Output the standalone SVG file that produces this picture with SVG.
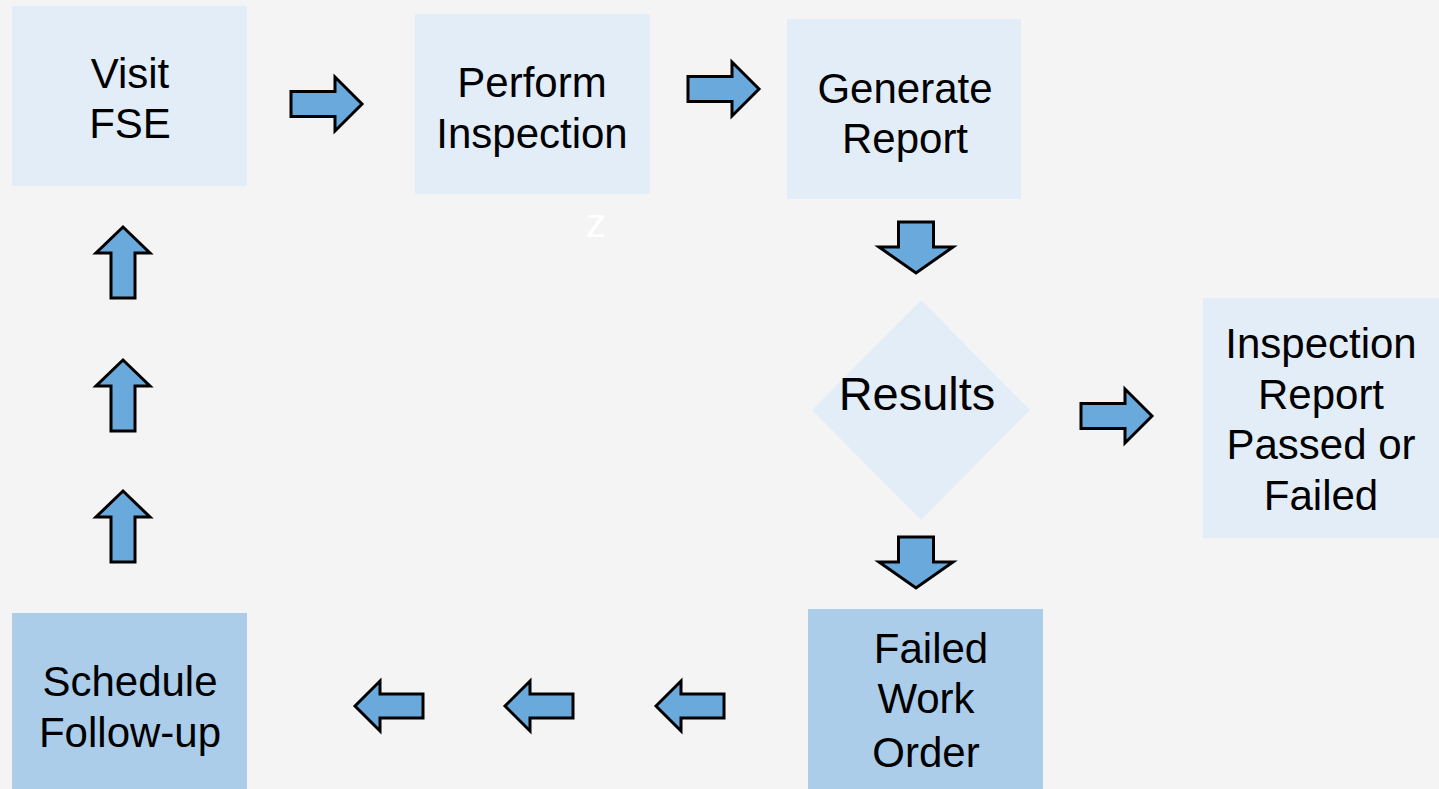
<svg xmlns="http://www.w3.org/2000/svg" xmlns:xlink="http://www.w3.org/1999/xlink" width="1439" height="789" viewBox="0 0 1439 789">
<style>
.box{fill:#e3edf8}
.dark{fill:#abcdea}
.lbl{font-family:"Liberation Sans",Arial,sans-serif;font-size:42px;fill:#000;text-anchor:middle}
.arr{fill:#6aa9dc;stroke:#000;stroke-width:3;stroke-linejoin:miter}
</style>
<defs>
<path id="ar" class="arr" d="M0,-12.5 H44 V-27 L71,0 L44,27 V12.5 H0 Z"/>
<path id="ad" class="arr" d="M-17.5,0 V25 H-37 L0,51 L37,25 H17.5 V0 Z"/>
<path id="au" class="arr" d="M0,0 L27,26 H12 V71 H-12 V26 H-27 Z"/>
<path id="al" class="arr" d="M0,0 L25,-25 V-12 H68 V12 H25 V25 Z"/>
</defs>
<rect width="1439" height="789" fill="#f4f4f4"/>
<text x="596" y="237" font-family="Liberation Sans,Arial,sans-serif" font-size="40" fill="#ffffff" text-anchor="middle">z</text>
<g id="visit">
<rect class="box" x="12" y="6" width="235" height="180"/>
<text class="lbl" x="130" y="88">Visit</text>
<text class="lbl" x="130" y="138">FSE</text>
</g>
<g id="perform">
<rect class="box" x="415" y="14" width="235" height="180"/>
<text class="lbl" x="532" y="97">Perform</text>
<text class="lbl" x="532" y="148">Inspection</text>
</g>
<g id="generate">
<rect class="box" x="787" y="19" width="234" height="180"/>
<text class="lbl" x="905" y="103">Generate</text>
<text class="lbl" x="905" y="153">Report</text>
</g>
<g id="results">
<polygon class="box" points="921,300 1030,410 921,520 812,410"/>
<text class="lbl" x="917" y="410" style="font-size:47px">Results</text>
</g>
<g id="report">
<rect class="box" x="1203" y="298" width="236" height="240"/>
<text class="lbl" x="1321" y="358">Inspection</text>
<text class="lbl" x="1321" y="409">Report</text>
<text class="lbl" x="1321" y="459">Passed or</text>
<text class="lbl" x="1321" y="510">Failed</text>
</g>
<g id="failed">
<rect class="dark" x="808" y="609" width="235" height="180"/>
<text class="lbl" x="931" y="663">Failed</text>
<text class="lbl" x="926" y="713">Work</text>
<text class="lbl" x="926" y="767">Order</text>
</g>
<g id="schedule">
<rect class="dark" x="12" y="613" width="235" height="176"/>
<text class="lbl" x="130" y="696">Schedule</text>
<text class="lbl" x="130" y="747">Follow-up</text>
</g>
<g id="connectors">
<use xlink:href="#ar" transform="translate(291,104)"/>
<use xlink:href="#ar" transform="translate(688,89)"/>
<use xlink:href="#ar" transform="translate(1081,416)"/>
<use xlink:href="#ad" transform="translate(916,222)"/>
<use xlink:href="#ad" transform="translate(916,537)"/>
<use xlink:href="#al" transform="translate(656,706)"/>
<use xlink:href="#al" transform="translate(505,706)"/>
<use xlink:href="#al" transform="translate(355,706)"/>
<use xlink:href="#au" transform="translate(123,491)"/>
<use xlink:href="#au" transform="translate(123,360)"/>
<use xlink:href="#au" transform="translate(123,227)"/>
</g>
</svg>
